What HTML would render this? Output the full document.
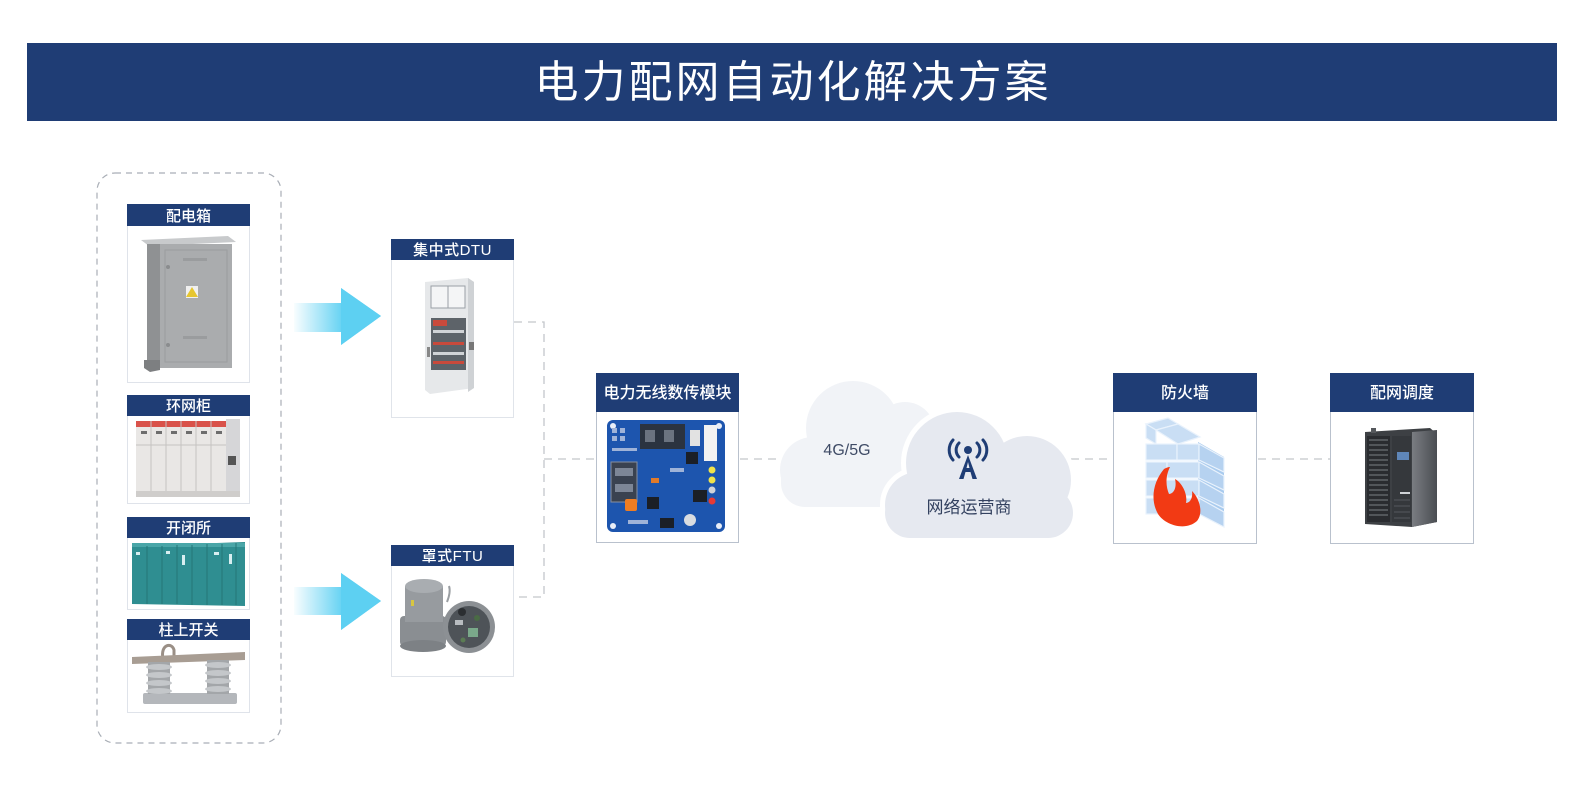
<!DOCTYPE html>
<html>
<head>
<meta charset="utf-8">
<style>
  html,body{margin:0;padding:0;background:#ffffff;}
  body{width:1584px;height:788px;overflow:hidden;}
  svg{display:block;}
  text{font-family:"Liberation Sans","Noto Sans CJK SC",sans-serif;}
</style>
</head>
<body>
<svg width="1584" height="788" viewBox="0 0 1584 788" xmlns="http://www.w3.org/2000/svg">
  <defs>
    <linearGradient id="a1" x1="292" y1="0" x2="345" y2="0" gradientUnits="userSpaceOnUse">
      <stop offset="0" stop-color="#5dd0f2" stop-opacity="0"/>
      <stop offset="1" stop-color="#5dd0f2" stop-opacity="1"/>
    </linearGradient>
    <linearGradient id="srv" x1="0" y1="0" x2="1" y2="0">
      <stop offset="0" stop-color="#7a7d82"/>
      <stop offset="1" stop-color="#4a4d52"/>
    </linearGradient>
  </defs>

  <!-- Header -->
  <rect x="27" y="43" width="1530" height="78" fill="#1f3d75"/>
  <text x="793" y="97" text-anchor="middle" font-size="44" fill="#ffffff" letter-spacing="3">电力配网自动化解决方案</text>

  <!-- Left dashed group -->
  <rect x="97" y="173" width="184" height="570" rx="18" ry="18" fill="none" stroke="#a9aeb6" stroke-width="1.2" stroke-dasharray="6 5"/>

  <!-- Card: 配电箱 -->
  <rect x="127.5" y="204.5" width="122" height="178" fill="#fff" stroke="#dfe3ea"/>
  <rect x="127" y="204" width="123" height="22" fill="#1f3d75"/>
  <text x="188.5" y="221" text-anchor="middle" font-size="15" font-weight="500" fill="#fff">配电箱</text>
  <g>
    <polygon points="141,240 228,236 236,242 149,246" fill="#c8cacc"/>
    <rect x="147" y="244" width="14" height="120" fill="#8f9193"/>
    <rect x="160" y="244" width="72" height="124" fill="#aaacae"/>
    <rect x="165" y="250" width="62" height="112" fill="none" stroke="#9b9d9f"/>
    <rect x="183" y="258" width="24" height="3" fill="#9a9c9e"/>
    <rect x="183" y="336" width="24" height="3" fill="#9a9c9e"/>
    <circle cx="168" cy="267" r="2" fill="#8a8c8e"/>
    <circle cx="168" cy="345" r="2" fill="#8a8c8e"/>
    <rect x="186" y="286" width="12" height="12" fill="#f0f0f0"/>
    <polygon points="192,287 198,297 186,297" fill="#e6c630"/>
    <polygon points="144,360 160,360 160,370 150,372 144,368" fill="#7d7f81"/>
  </g>

  <!-- Card: 环网柜 -->
  <rect x="127.5" y="395.5" width="122" height="108" fill="#fff" stroke="#dfe3ea"/>
  <rect x="127" y="395" width="123" height="21" fill="#1f3d75"/>
  <text x="188.5" y="411" text-anchor="middle" font-size="15" font-weight="500" fill="#fff">环网柜</text>
  <g>
    <rect x="136" y="421" width="104" height="76" fill="#e9e7e5"/>
    <rect x="136" y="421" width="90" height="6" fill="#d9524a"/>
    <rect x="226" y="419" width="14" height="78" fill="#d6d6d8"/>
    <g stroke="#c5c3c1" stroke-width="1">
      <line x1="151" y1="421" x2="151" y2="497"/>
      <line x1="166" y1="421" x2="166" y2="497"/>
      <line x1="181" y1="421" x2="181" y2="497"/>
      <line x1="196" y1="421" x2="196" y2="497"/>
      <line x1="211" y1="421" x2="211" y2="497"/>
      <line x1="136" y1="445" x2="226" y2="445"/>
    </g>
    <g fill="#6d6d6d">
      <rect x="141" y="431" width="6" height="3"/><rect x="156" y="431" width="6" height="3"/>
      <rect x="171" y="431" width="6" height="3"/><rect x="186" y="431" width="6" height="3"/>
      <rect x="201" y="431" width="6" height="3"/><rect x="216" y="431" width="6" height="3"/>
      <rect x="228" y="456" width="8" height="9" fill="#555"/>
    </g>
    <rect x="136" y="491" width="104" height="6" fill="#cfcdcb"/>
  </g>

  <!-- Card: 开闭所 -->
  <rect x="127.5" y="517.5" width="122" height="92" fill="#fff" stroke="#dfe3ea"/>
  <rect x="127" y="517" width="123" height="21" fill="#1f3d75"/>
  <text x="188.5" y="533" text-anchor="middle" font-size="15" font-weight="500" fill="#fff">开闭所</text>
  <g>
    <polygon points="132,546 245,542 245,606 132,604" fill="#2f8e91"/>
    <rect x="132" y="543" width="113" height="4" fill="#4aa6a8"/>
    <g stroke="#257578" stroke-width="1">
      <line x1="147" y1="546" x2="147" y2="604"/>
      <line x1="162" y1="546" x2="162" y2="604"/>
      <line x1="177" y1="545" x2="177" y2="604"/>
      <line x1="192" y1="545" x2="192" y2="605"/>
      <line x1="207" y1="544" x2="207" y2="605"/>
      <line x1="222" y1="544" x2="222" y2="605"/>
      <line x1="236" y1="543" x2="236" y2="605"/>
    </g>
    <g fill="#d8eef0">
      <rect x="136" y="552" width="4" height="3"/><rect x="166" y="551" width="4" height="3"/>
      <rect x="182" y="555" width="3" height="10"/><rect x="214" y="552" width="5" height="3"/>
      <rect x="229" y="554" width="3" height="10"/>
    </g>
  </g>

  <!-- Card: 柱上开关 -->
  <rect x="127.5" y="619.5" width="122" height="93" fill="#fff" stroke="#dfe3ea"/>
  <rect x="127" y="619" width="123" height="21" fill="#1f3d75"/>
  <text x="188.5" y="635" text-anchor="middle" font-size="15" font-weight="500" fill="#fff">柱上开关</text>
  <g>
    <rect x="143" y="693" width="94" height="11" rx="2" fill="#b4b7bb"/>
    <path d="M163,659 C160,644 172,642 174,650 L174,659" fill="none" stroke="#9a8f86" stroke-width="3"/>
    <polygon points="132,657 245,652 245,660 132,664" fill="#a89d93"/>
    <g fill="#a3a6a9">
      <rect x="148" y="662" width="22" height="32"/>
      <rect x="207" y="660" width="22" height="34"/>
    </g>
    <g fill="#c4c7ca">
      <ellipse cx="159" cy="667" rx="13" ry="3"/><ellipse cx="159" cy="675" rx="13" ry="3"/>
      <ellipse cx="159" cy="683" rx="13" ry="3"/><ellipse cx="159" cy="691" rx="13" ry="3"/>
      <ellipse cx="218" cy="665" rx="13" ry="3"/><ellipse cx="218" cy="673" rx="13" ry="3"/>
      <ellipse cx="218" cy="681" rx="13" ry="3"/><ellipse cx="218" cy="689" rx="13" ry="3"/>
    </g>
  </g>

  <!-- Arrows -->
  <path d="M294,303 L341,303 L341,288 L381,316 L341,345 L341,332 L294,332 Z" fill="url(#a1)"/>
  <polygon points="341,288 381,316 341,345" fill="#5dd0f2"/>
  <path d="M294,587 L341,587 L341,573 L381,601 L341,630 L341,615 L294,615 Z" fill="url(#a1)"/>
  <polygon points="341,573 381,601 341,630" fill="#5dd0f2"/>

  <!-- Card: 集中式DTU -->
  <rect x="391.5" y="239.5" width="122" height="178" fill="#fff" stroke="#e0e4ea"/>
  <rect x="391" y="239" width="123" height="21" fill="#1f3d75"/>
  <text x="452.5" y="255" text-anchor="middle" font-size="15" font-weight="500" fill="#fff" letter-spacing="0.5">集中式DTU</text>
  <g>
    <polygon points="425,282 468,278 474,282 474,388 430,394 425,390" fill="#e6e8ea"/>
    <polygon points="468,278 474,282 474,388 468,392" fill="#cfd2d5"/>
    <rect x="431" y="286" width="34" height="22" fill="#f4f5f6" stroke="#9aa0a6"/>
    <line x1="448" y1="286" x2="448" y2="308" stroke="#9aa0a6"/>
    <rect x="431" y="318" width="35" height="52" fill="#5d6369"/>
    <rect x="433" y="320" width="14" height="6" fill="#c94a3c"/>
    <rect x="433" y="330" width="31" height="3" fill="#d0d3d6"/>
    <rect x="433" y="342" width="31" height="3" fill="#c94a3c"/>
    <rect x="433" y="352" width="31" height="3" fill="#d0d3d6"/>
    <rect x="433" y="361" width="31" height="3" fill="#c94a3c"/>
    <rect x="469" y="342" width="5" height="8" fill="#777"/>
    <rect x="427" y="347" width="3" height="10" fill="#888"/>
  </g>

  <!-- Card: 罩式FTU -->
  <rect x="391.5" y="545.5" width="122" height="131" fill="#fff" stroke="#e0e4ea"/>
  <rect x="391" y="545" width="123" height="21" fill="#1f3d75"/>
  <text x="452.5" y="561" text-anchor="middle" font-size="15" font-weight="500" fill="#fff" letter-spacing="0.5">罩式FTU</text>
  <g>
    <rect x="400" y="616" width="46" height="30" rx="4" fill="#8a8e92"/>
    <rect x="405" y="586" width="38" height="36" fill="#979b9f"/>
    <ellipse cx="424" cy="586" rx="19" ry="7" fill="#a9adb1"/>
    <ellipse cx="423" cy="646" rx="23" ry="6" fill="#7d8185"/>
    <rect x="411" y="600" width="3" height="6" fill="#d8c640"/>
    <path d="M447,602 q4,-10 2,-16" fill="none" stroke="#9a9ea2" stroke-width="2"/>
    <circle cx="469" cy="627" r="26" fill="#8c9094"/>
    <circle cx="469" cy="627" r="21" fill="#4e5358"/>
    <circle cx="462" cy="612" r="4" fill="#2b2e31"/>
    <circle cx="477" cy="618" r="3" fill="#4a6b45"/>
    <rect x="468" y="628" width="10" height="9" fill="#7aa88a"/>
    <rect x="455" y="620" width="8" height="5" fill="#b8bcc0"/>
    <circle cx="463" cy="640" r="2.5" fill="#5b7c54"/>
  </g>

  <!-- Dashed connectors -->
  <g fill="none" stroke="#c3c6cb" stroke-width="1.3" stroke-dasharray="8 6">
    <polyline points="514,322 544,322 544,597 514,597"/>
    <line x1="544" y1="459" x2="596" y2="459"/>
    <line x1="740" y1="459" x2="782" y2="459"/>
    <line x1="1071" y1="459" x2="1113" y2="459"/>
    <line x1="1258" y1="459" x2="1330" y2="459"/>
  </g>

  <!-- Card: 电力无线数传模块 -->
  <rect x="596.5" y="373.5" width="142" height="169" fill="#fff" stroke="#b9c1cd"/>
  <rect x="596" y="373" width="143" height="39" fill="#1f3d75"/>
  <text x="667.5" y="398" text-anchor="middle" font-size="16" font-weight="500" fill="#fff">电力无线数传模块</text>
  <g>
    <rect x="607" y="420" width="118" height="112" rx="6" fill="#1d55ae"/>
    <circle cx="613" cy="426" r="3" fill="#e8eef8"/>
    <circle cx="719" cy="426" r="3" fill="#e8eef8"/>
    <circle cx="613" cy="526" r="3" fill="#e8eef8"/>
    <circle cx="719" cy="526" r="3" fill="#e8eef8"/>
    <rect x="640" y="424" width="45" height="25" fill="#2b3340"/>
    <rect x="645" y="430" width="10" height="12" fill="#6b7380"/>
    <rect x="664" y="430" width="10" height="12" fill="#6b7380"/>
    <rect x="611" y="462" width="26" height="40" fill="#3a4250" stroke="#8890a0"/>
    <rect x="615" y="468" width="18" height="8" fill="#7d8696"/>
    <rect x="615" y="484" width="18" height="8" fill="#7d8696"/>
    <rect x="704" y="425" width="13" height="36" fill="#f2f2f2"/>
    <rect x="690" y="430" width="10" height="16" fill="#e2e2e2"/>
    <rect x="686" y="452" width="12" height="12" fill="#1b1f26"/>
    <rect x="693" y="490" width="14" height="12" fill="#1b1f26"/>
    <rect x="647" y="497" width="12" height="12" fill="#1b1f26"/>
    <rect x="660" y="518" width="14" height="10" fill="#1b1f26"/>
    <rect x="651" y="478" width="8" height="5" fill="#e07a2a"/>
    <rect x="625" y="499" width="12" height="12" rx="2" fill="#ef7d23"/>
    <circle cx="690" cy="520" r="6" fill="#d9dce0"/>
    <circle cx="712" cy="470" r="3.5" fill="#f0e34a"/>
    <circle cx="712" cy="480" r="3.5" fill="#f0e34a"/>
    <circle cx="712" cy="490" r="3.5" fill="#d0d3d8"/>
    <circle cx="712" cy="501" r="3.5" fill="#e73a35"/>
    <g fill="#9fb3d8">
      <rect x="612" y="428" width="5" height="5"/><rect x="620" y="428" width="5" height="5"/>
      <rect x="612" y="436" width="5" height="5"/><rect x="620" y="436" width="5" height="5"/>
      <rect x="612" y="448" width="25" height="3"/>
      <rect x="670" y="468" width="14" height="4"/>
      <rect x="628" y="520" width="20" height="4"/>
    </g>
  </g>

  <!-- Clouds -->
  <g fill="#f1f3f7">
    <circle cx="853" cy="428" r="47"/>
    <circle cx="905" cy="432" r="30"/>
    <circle cx="813" cy="470" r="33"/>
    <rect x="781" y="455" width="152" height="52" rx="24"/>
  </g>
  <!-- front cloud halo -->
  <g fill="#ffffff" stroke="#ffffff" stroke-width="10">
    <circle cx="957" cy="463" r="51"/>
    <circle cx="1027" cy="480" r="44"/>
    <circle cx="918" cy="505" r="33"/>
    <rect x="885" y="488" width="188" height="50" rx="25"/>
  </g>
  <g fill="#e6e9f0">
    <circle cx="957" cy="463" r="51"/>
    <circle cx="1027" cy="480" r="44"/>
    <circle cx="918" cy="505" r="33"/>
    <rect x="885" y="488" width="188" height="50" rx="25"/>
  </g>
  <text x="847" y="455" text-anchor="middle" font-size="16" fill="#3f4b66">4G/5G</text>
  <!-- tower icon -->
  <g stroke="#1f3d75" fill="none" stroke-width="3" stroke-linecap="round">
    <path d="M959,443 a10,10 0 0 0 0,14"/>
    <path d="M953,440 a15,15 0 0 0 0,20"/>
    <path d="M977,443 a10,10 0 0 1 0,14"/>
    <path d="M983,440 a15,15 0 0 1 0,20"/>
  </g>
  <circle cx="968" cy="450" r="4" fill="#1f3d75"/>
  <path d="M968,455 L959,479 L963.5,479 L965.5,472 L970.5,472 L972.5,479 L977,479 Z M966.5,468 L968,462 L969.5,468 Z" fill="#1f3d75" fill-rule="evenodd"/>
  <text x="969" y="513" text-anchor="middle" font-size="17" fill="#33415f">网络运营商</text>

  <!-- Card: 防火墙 -->
  <rect x="1113.5" y="373.5" width="143" height="170" fill="#fff" stroke="#b9c1cd"/>
  <rect x="1113" y="373" width="144" height="39" fill="#1f3d75"/>
  <text x="1185" y="398" text-anchor="middle" font-size="16" font-weight="500" fill="#fff">防火墙</text>
  <g>
    <polygon points="1198,442 1224,457 1224,527 1198,512" fill="#a9cbee"/>
    <g fill="#c9def4" stroke="#e9f2fc" stroke-width="1.2">
      <polygon points="1146,424 1168,418 1178,424 1156,430"/>
      <polygon points="1146,424 1156,430 1156,444 1146,438"/>
      <polygon points="1156,430 1178,424 1200,437 1178,444"/>
      <rect x="1146" y="444" width="31" height="16"/>
      <rect x="1177" y="444" width="22" height="16"/>
      <rect x="1146" y="462" width="21" height="16"/>
      <rect x="1167" y="462" width="32" height="16"/>
      <rect x="1146" y="480" width="31" height="16"/>
      <rect x="1177" y="480" width="22" height="16"/>
      <rect x="1146" y="498" width="21" height="16"/>
      <rect x="1167" y="498" width="32" height="16"/>
    </g>
    <g fill="#b6d2f0" stroke="#e9f2fc" stroke-width="1.2">
      <polygon points="1199,444 1224,458 1224,472 1199,460"/>
      <polygon points="1199,462 1224,476 1224,490 1199,478"/>
      <polygon points="1199,480 1224,494 1224,508 1199,496"/>
      <polygon points="1199,498 1224,512 1224,527 1199,514"/>
    </g>
    <path d="M1164,469 C1153,482 1150,500 1158,514 C1166,526 1186,531 1197,521 C1204,512 1199,498 1192,491 C1193,498 1190,503 1186,503 C1188,493 1181,482 1175,479 C1177,487 1174,494 1169,494 C1166,487 1165,477 1170,467 C1168,467 1166,468 1164,469 Z" fill="#f23a14"/>
  </g>

  <!-- Card: 配网调度 -->
  <rect x="1330.5" y="373.5" width="143" height="170" fill="#fff" stroke="#b9c1cd"/>
  <rect x="1330" y="373" width="144" height="39" fill="#1f3d75"/>
  <text x="1402" y="398" text-anchor="middle" font-size="16" font-weight="500" fill="#fff">配网调度</text>
  <g>
    <polygon points="1365,432 1430,428 1437,434 1437,522 1412,527 1365,524" fill="#3d4044"/>
    <polygon points="1412,432 1437,430 1437,522 1412,527" fill="url(#srv)"/>
    <rect x="1367" y="436" width="23" height="86" fill="#2a2c30"/>
    <rect x="1392" y="436" width="19" height="86" fill="#35383c"/>
    <g stroke="#7b7f85" stroke-width="1">
      <line x1="1369" y1="440" x2="1388" y2="440"/><line x1="1369" y1="445" x2="1388" y2="445"/>
      <line x1="1369" y1="450" x2="1388" y2="450"/><line x1="1369" y1="455" x2="1388" y2="455"/>
      <line x1="1369" y1="460" x2="1388" y2="460"/><line x1="1369" y1="465" x2="1388" y2="465"/>
      <line x1="1369" y1="470" x2="1388" y2="470"/><line x1="1369" y1="475" x2="1388" y2="475"/>
      <line x1="1369" y1="480" x2="1388" y2="480"/><line x1="1369" y1="485" x2="1388" y2="485"/>
      <line x1="1369" y1="490" x2="1388" y2="490"/><line x1="1369" y1="495" x2="1388" y2="495"/>
      <line x1="1369" y1="500" x2="1388" y2="500"/><line x1="1369" y1="505" x2="1388" y2="505"/>
      <line x1="1369" y1="510" x2="1388" y2="510"/><line x1="1369" y1="515" x2="1388" y2="515"/>
    </g>
    <rect x="1397" y="452" width="12" height="8" fill="#5f86b8"/>
    <rect x="1400" y="492" width="10" height="2" fill="#cfd2d6"/>
    <g stroke="#55595e" stroke-width="1">
      <line x1="1394" y1="500" x2="1410" y2="500"/><line x1="1394" y1="506" x2="1410" y2="506"/>
      <line x1="1394" y1="512" x2="1410" y2="512"/><line x1="1394" y1="518" x2="1410" y2="518"/>
    </g>
    <rect x="1371" y="428" width="5" height="5" fill="#55585c"/>
  </g>
</svg>
</body>
</html>
